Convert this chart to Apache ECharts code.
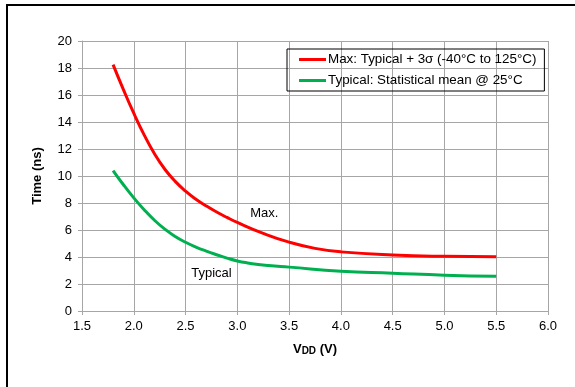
<!DOCTYPE html>
<html>
<head>
<meta charset="utf-8">
<script src="https://cdn.jsdelivr.net/npm/echarts@6/dist/echarts.min.js"></script>
<style>
  html, body { margin: 0; padding: 0; background: #fff; }
  #chart { width: 575px; height: 387px; }
</style>
</head>
<body>
<div id="chart"></div>
<script>
// values
const maxX = [1.8, 1.9, 2.0, 2.1, 2.2, 2.3, 2.4, 2.5, 2.6, 2.7, 2.8, 2.9, 3.0, 3.25, 3.5, 3.75, 4.0, 4.5, 5.0, 5.5];
const maxY = [18.25, 16.4, 14.65, 13.05, 11.65, 10.5, 9.6, 8.88, 8.28, 7.78, 7.33, 6.93, 6.56, 5.75, 5.1, 4.64, 4.38, 4.15, 4.05, 4.02];
const typX = [1.8, 1.9, 2.0, 2.1, 2.2, 2.3, 2.4, 2.5, 2.6, 2.7, 2.8, 2.9, 3.0, 3.1, 3.2, 3.3, 3.5, 4.0, 4.5, 5.0, 5.5];
const typY = [10.4, 9.35, 8.38, 7.5, 6.72, 6.06, 5.52, 5.09, 4.74, 4.44, 4.17, 3.92, 3.71, 3.56, 3.45, 3.37, 3.25, 2.95, 2.8, 2.65, 2.57];
const seriesNames = ['Max: Typical + 3\u03c3 (-40\u00b0C to 125\u00b0C)', 'Typical: Statistical mean @ 25\u00b0C'];
const curveLabels = ['Max.', 'Typical'];
const labelPos = [[3.26, 7.2], [2.75, 2.8]];

const font = 'Liberation Sans, Arial, sans-serif';
const gridColor = '#a6a6a6';

const zip = (xs, ys) => xs.map((x, i) => [x, ys[i]]);

const chart = echarts.init(document.getElementById('chart'));
chart.setOption({
  animation: false,
  backgroundColor: '#fff',
  grid: { left: 82, right: 27, top: 41, bottom: 76 },
  graphic: [{
    type: 'rect',
    shape: { x: 7, y: 5, width: 620, height: 420 },
    style: { fill: 'none', stroke: '#000', lineWidth: 2 },
    silent: true
  }],
  legend: {
    left: 287, top: 49,
    orient: 'vertical',
    borderColor: '#000', borderWidth: 1, borderRadius: 0,
    padding: [3, 8, 3, 12],
    itemGap: 6,
    itemWidth: 27, itemHeight: 3,
    icon: 'rect',
    textStyle: { fontFamily: font, fontSize: 13.4, lineHeight: 15, color: '#000', padding: [0, 0, 0, -3] },
    data: seriesNames
  },
  xAxis: {
    type: 'value', min: 1.5, max: 6.0, interval: 0.5,
    name: '{v|V}{d|DD}{v| (V)}', nameLocation: 'middle', nameGap: 32,
    nameTextStyle: {
      rich: {
        v: { fontFamily: font, fontSize: 13, fontWeight: 'bold', color: '#000' },
        d: { fontFamily: font, fontSize: 10, fontWeight: 'bold', color: '#000', verticalAlign: 'bottom' }
      }
    },
    axisLine: { show: true, lineStyle: { color: gridColor } },
    axisTick: { show: true, length: 4, lineStyle: { color: gridColor } },
    axisLabel: { fontFamily: font, fontSize: 13, color: '#000', margin: 9, formatter: v => v.toFixed(1) },
    splitLine: { show: true, lineStyle: { color: gridColor, width: 1 } }
  },
  yAxis: {
    type: 'value', min: 0, max: 20, interval: 2,
    name: 'Time (ns)', nameLocation: 'middle', nameGap: 38, nameRotate: 90,
    nameTextStyle: { fontFamily: font, fontSize: 13, fontWeight: 'bold', color: '#000' },
    axisLine: { show: true, lineStyle: { color: gridColor } },
    axisTick: { show: true, length: 4, lineStyle: { color: gridColor } },
    axisLabel: { fontFamily: font, fontSize: 13, color: '#000', margin: 10 },
    splitLine: { show: true, lineStyle: { color: gridColor, width: 1 } }
  },
  series: [
    {
      name: seriesNames[0], type: 'line', smooth: 0.5, showSymbol: false,
      color: '#ff0000', lineStyle: { width: 3, color: '#ff0000' },
      data: zip(maxX, maxY),
      markPoint: {
        symbol: 'rect', symbolSize: 0,
        label: { show: true, formatter: curveLabels[0], fontFamily: font, fontSize: 13, color: '#000' },
        data: [{ coord: labelPos[0] }]
      }
    },
    {
      name: seriesNames[1], type: 'line', smooth: 0.5, showSymbol: false,
      color: '#00b050', lineStyle: { width: 3, color: '#00b050' },
      data: zip(typX, typY),
      markPoint: {
        symbol: 'rect', symbolSize: 0,
        label: { show: true, formatter: curveLabels[1], fontFamily: font, fontSize: 13, color: '#000',
                 backgroundColor: '#fff', padding: [2, 2] },
        data: [{ coord: labelPos[1] }]
      }
    }
  ]
});
</script>
</body>
</html>
